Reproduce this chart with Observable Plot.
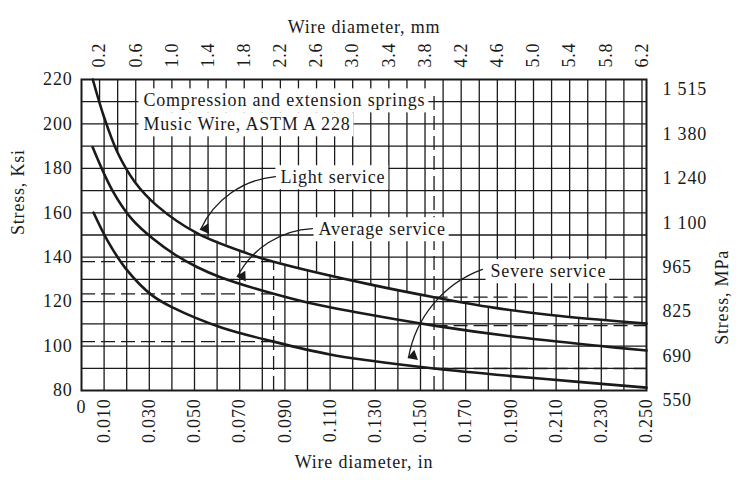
<!DOCTYPE html>
<html><head><meta charset="utf-8">
<script src="https://cdn.jsdelivr.net/npm/d3@7"></script>
<script src="https://cdn.jsdelivr.net/npm/@observablehq/plot@0.6"></script>
<style>body{margin:0;background:#fff}</style>
</head><body><div id="chart"></div>
<script>
// ---- tick labels ----
const xTicksIn = [0.010,0.030,0.050,0.070,0.090,0.110,0.130,0.150,0.170,0.190,0.210,0.230,0.250];
const mmTicks = [0.2,0.6,1.0,1.4,1.8,2.2,2.6,3.0,3.4,3.8,4.2,4.6,5.0,5.4,5.8,6.2];
const ksiTicks = [80,100,120,140,160,180,200,220];
const mpaLabels = ["550","690","825","965","1 100","1 240","1 380","1 515"];
// ---- grid ----
const inGrid = [0.01,0.02,0.03,0.04,0.05,0.06,0.07,0.08,0.09,0.10,0.11,0.12,0.13,0.14,0.15,0.16,0.17,0.18,0.19,0.20,0.21,0.22,0.23,0.24];
const mmGrid = [0.2,0.4,0.6,0.8,1.0,1.2,1.4,1.6,1.8,2.0,2.2,2.4,2.6,2.8,3.0,3.2,3.4,3.6,3.8,4.0,4.2,4.4,4.6,4.8,5.0,5.2,5.4,5.6,5.8,6.0,6.2];
const ksiGrid = [90,100,110,120,130,140,150,160,170,180,190,200,210];
// ---- series (wire diameter in, stress ksi) ----
const lightD = [0.005,0.010,0.016,0.0235,0.0336,0.0513,0.0739,0.085,0.1265,0.156,0.1823,0.2075,0.25];
const lightS = [220,203,187,174,163,150.7,141.5,138,128,122,117.3,114,110.1];
const averageD = [0.0049,0.0137,0.0224,0.0314,0.0416,0.0513,0.0615,0.085,0.1004,0.1265,0.156,0.189,0.2296,0.25];
const averageS = [189.6,170,157,148.5,141,135.5,131,123.5,119.5,114.3,109.2,104.5,100,98];
const severeD = [0.0053,0.0115,0.0195,0.0314,0.0407,0.0615,0.085,0.11,0.1265,0.156,0.189,0.2186,0.25];
const severeS = [160.1,147.5,135,122.7,117.2,108.5,102,96.2,93.6,89.9,86.6,84,81.3];
// ---- reference (dashed) lines ----
const refLeftX = 0.085, refLeftS = [138,123.5,102];
const refRightX = 0.156, refRightS = [122,109.2,89.9];
// ---- annotations ----
const labelText = ["Compression and extension springs","Music Wire, ASTM A 228","Light service","Average service","Severe service"];
const labelX = [0.0274,0.0274,0.088,0.1049,0.181];
const labelS = [210.5,199.7,175.9,152.5,133.6];
const arrowX1 = [0.0858,0.1022,0.1774], arrowS1 = [176.3,152.9,134.5];
const arrowX2 = [0.0527,0.069,0.1447], arrowS2 = [152.5,131.3,94.8];

const MM_TO_IN = 0.04;
const INK = "#1a1a1a";
const BEND = -30;

const X0 = 81, X1 = 646, Y0 = 390, Y1 = 79;
const sx = d3.scaleLinear([0, 0.25], [X0, X1]);
const sy = d3.scaleLinear([80, 220], [Y0, Y1]);
// the printed grid changes from an inch grid (below the light-service curve) to a mm grid (above it)
const lightAt = d3.scaleLinear(lightD, lightS).clamp(true);
const splitAt = x => x < lightD[0] ? 220 : lightAt(x);

const series = [
  ...lightD.map((d,i)=>({d, s:lightS[i], k:"Light"})),
  ...averageD.map((d,i)=>({d, s:averageS[i], k:"Average"})),
  ...severeD.map((d,i)=>({d, s:severeS[i], k:"Severe"}))
];
const labels = labelText.map((t,i)=>({t, x:labelX[i], y:labelS[i]}));
const arrows = arrowX1.map((x,i)=>({x1:x, y1:arrowS1[i], x2:arrowX2[i], y2:arrowS2[i]}));
const heads = arrows.map(a => {
  const dx = sx(a.x2) - sx(a.x1), dy = sy(a.y2) - sy(a.y1);
  const beta = Math.atan2(dy, dx) - BEND * Math.PI / 180;
  const back = 5;
  return {
    x: sx.invert(sx(a.x2) - back * Math.cos(beta)),
    y: sy.invert(sy(a.y2) - back * Math.sin(beta)),
    r: beta * 180 / Math.PI + 90
  };
});
const mmGridIn = mmGrid.map(m => m * MM_TO_IN);

const chart = Plot.plot({
  width: 736, height: 480,
  marginLeft: X0, marginRight: 736 - X1, marginTop: Y1, marginBottom: 480 - Y0,
  style: {fontFamily: "'Liberation Serif', 'DejaVu Serif', serif", fontSize: "18px", letterSpacing: "0.8px", color: INK, background: "#fff"},
  x: {domain: [0, 0.25]},
  y: {domain: [80, 220]},
  marks: [
    Plot.ruleX(inGrid, {x: d => d, y1: 80, y2: d => splitAt(d), stroke: INK, strokeWidth: 1.3}),
    Plot.ruleX(mmGridIn, {x: d => d, y1: d => splitAt(d), y2: 220, stroke: INK, strokeWidth: 1.3}),
    Plot.ruleY(ksiGrid, {stroke: INK, strokeWidth: 1.3}),
    Plot.ruleY(refLeftS, {x1: 0, x2: refLeftX, stroke: INK, strokeWidth: 1.3, strokeDasharray: "14,6"}),
    Plot.ruleX([refLeftX], {y1: 80, y2: refLeftS[0], stroke: INK, strokeWidth: 1.3, strokeDasharray: "14,6"}),
    Plot.ruleY(refRightS, {x1: refRightX, x2: 0.25, stroke: INK, strokeWidth: 1.3, strokeDasharray: "14,6"}),
    Plot.ruleX([refRightX], {y1: 80, y2: 215, stroke: INK, strokeWidth: 1.3, strokeDasharray: "14,6"}),
    Plot.text(labels, {x: "x", y: "y", text: "t", textAnchor: "start", fill: INK, className: "annot"}),
    Plot.line(series, {x: "d", y: "s", z: "k", curve: "catmull-rom", stroke: INK, strokeWidth: 2.6}),
    Plot.arrow(arrows, {x1: "x1", y1: "y1", x2: "x2", y2: "y2", bend: BEND, stroke: INK, strokeWidth: 1.3, headLength: 0}),
    Plot.dot(heads, {x: "x", y: "y", rotate: "r", symbol: "triangle", r: 4, fill: INK, stroke: "none"}),
    Plot.frame({stroke: INK, strokeWidth: 2}),
    Plot.axisX(xTicksIn, {anchor: "bottom", tickSize: 0, tickPadding: 8, tickRotate: -90, tickFormat: d3.format(".3f"), label: null}),
    Plot.axisX([0], {anchor: "bottom", tickSize: 0, tickPadding: 10, tickFormat: () => "0", label: null}),
    Plot.axisX(mmTicks.map(m => m * MM_TO_IN), {anchor: "top", tickSize: 0, tickPadding: 12, tickRotate: -90, tickFormat: d => (d / MM_TO_IN).toFixed(1), label: null}),
    Plot.axisY(ksiTicks, {anchor: "left", tickSize: 0, tickPadding: 9, label: null}),
    Plot.axisY(ksiTicks, {anchor: "right", tickSize: 0, tickPadding: 16, dy: 10, tickFormat: d => mpaLabels[ksiTicks.indexOf(d)], label: null}),
    Plot.text(["Wire diameter, mm"], {frameAnchor: "top", dy: -59, fill: INK}),
    Plot.text(["Wire diameter, in"], {frameAnchor: "bottom", dy: 77, fill: INK}),
    Plot.text(["Stress, Ksi"], {frameAnchor: "left", dx: -63, rotate: -90, fill: INK}),
    Plot.text(["Stress, MPa"], {frameAnchor: "right", dx: 76, dy: 15, rotate: -90, fill: INK})
  ]
});
document.getElementById("chart").appendChild(chart);
// white boxes behind the annotation texts (they hide the grid under the words)
chart.querySelectorAll("g.annot text").forEach(t => {
  const b = t.getBBox();
  const r = document.createElementNS("http://www.w3.org/2000/svg", "rect");
  r.setAttribute("x", b.x - 5); r.setAttribute("y", b.y - 2);
  r.setAttribute("width", b.width + 8); r.setAttribute("height", b.height + 4);
  r.setAttribute("fill", "#fff");
  if (t.getAttribute("transform")) r.setAttribute("transform", t.getAttribute("transform"));
  t.parentNode.insertBefore(r, t);
});
</script>
</body></html>
